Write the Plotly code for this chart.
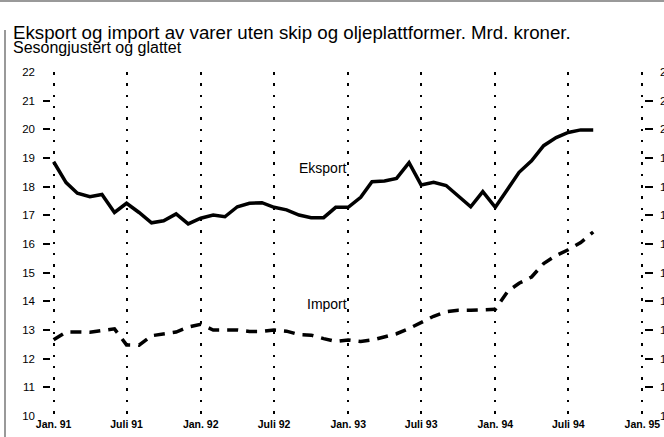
import pandas as pd
import plotly.graph_objects as go

# ---- data ----
start_month = "1991-01-01"
eksport = [18.87, 18.14, 17.77, 17.65, 17.73, 17.10, 17.42, 17.10, 16.74, 16.81,
           17.05, 16.70, 16.90, 17.01, 16.95, 17.30, 17.42, 17.44, 17.28, 17.19,
           17.01, 16.92, 16.92, 17.28, 17.28, 17.63, 18.17, 18.20, 18.29, 18.84,
           18.06, 18.15, 18.04, 17.67, 17.30, 17.83, 17.28, 17.92, 18.50, 18.90,
           19.43, 19.71, 19.89, 19.98, 19.98]
importv = [12.66, 12.93, 12.93, 12.92, 12.98, 13.04, 12.48, 12.47, 12.80, 12.86,
           12.93, 13.10, 13.20, 13.00, 13.00, 13.00, 12.95, 12.95, 13.00, 12.96,
           12.84, 12.82, 12.70, 12.60, 12.65, 12.60, 12.65, 12.75, 12.87, 13.05,
           13.25, 13.48, 13.64, 13.69, 13.69, 13.69, 13.72, 14.35, 14.63, 14.85,
           15.32, 15.60, 15.80, 16.05, 16.42]
months = pd.date_range(start_month, periods=len(eksport), freq="MS")

xtick_vals = ["1991-01-01", "1991-07-01", "1992-01-01", "1992-07-01", "1993-01-01",
              "1993-07-01", "1994-01-01", "1994-07-01", "1995-01-01"]
xtick_text = ["Jan. 91", "Juli 91", "Jan. 92", "Juli 92", "Jan. 93",
              "Juli 93", "Jan. 94", "Juli 94", "Jan. 95"]
y_label_vals = list(range(10, 23))
y_tick_vals = list(range(11, 22))

title_text = "Eksport og import av varer uten skip og oljeplattformer. Mrd. kroner."
subtitle_text = "Sesongjustert og glattet"

# ---- layout constants ----
W, H = 664, 437
L, R, T, B = 40, 20, 72, 21
PW = W - L - R
PH = H - T - B
FONT = "Liberation Sans, Arial, Helvetica, sans-serif"


def px_x(p):
    return (p - L) / PW


def px_y(p):
    return (H - B - p) / PH


fig = go.Figure()
fig.add_trace(go.Scatter(x=months, y=eksport, mode="lines", name="Eksport",
                         line=dict(color="black", width=3.5), showlegend=False))
fig.add_trace(go.Scatter(x=months, y=importv, mode="lines", name="Import",
                         line=dict(color="black", width=3.5, dash="11px,8px"),
                         showlegend=False))

common_y = dict(range=[10, 22], showgrid=False, zeroline=False, showline=False,
                automargin=False, fixedrange=True)

fig.update_layout(
    template="none",
    width=W, height=H,
    margin=dict(l=L, r=R, t=T, b=B, pad=0, autoexpand=False),
    paper_bgcolor="white", plot_bgcolor="white",
    font=dict(family=FONT, color="black"),
    showlegend=False,
    xaxis=dict(domain=[px_x(52), 1], range=["1990-12-28", "1995-01-05"],
               tickvals=xtick_vals, ticktext=xtick_text, ticks="",
               tickfont=dict(size=10.5, family=FONT, weight="bold"),
               showgrid=True, gridcolor="black", gridwidth=2.2, griddash="2.5px,8.8px",
               zeroline=False, showline=False, automargin=False, fixedrange=True),
    yaxis=dict(**common_y, tickvals=y_label_vals, ticks="", anchor="x", side="left",
               ticklabelstandoff=16, tickfont=dict(size=11.5, family=FONT)),
    yaxis2=dict(**common_y, tickvals=y_tick_vals, ticks="outside", ticklen=7,
                tickwidth=1.6, tickcolor="black", showticklabels=False,
                overlaying="y", anchor="free", position=px_x(50), side="left"),
    yaxis3=dict(**common_y, tickvals=y_tick_vals, ticks="outside", ticklen=8,
                tickwidth=1.6, tickcolor="black", showticklabels=False,
                overlaying="y", anchor="x", side="right"),
    yaxis4=dict(**common_y, tickvals=y_label_vals, ticks="", overlaying="y", anchor="x",
                side="right", ticklabelstandoff=15, tickfont=dict(size=11.5, family=FONT)),
)
# invisible traces so overlay axes render
for ax in ["y2", "y3", "y4"]:
    fig.add_trace(go.Scatter(x=[months[0]], y=[10], yaxis=ax, mode="markers",
                             marker=dict(opacity=0), hoverinfo="skip", showlegend=False))

fig.add_annotation(text=title_text, xref="paper", yref="paper",
                   x=px_x(11), y=px_y(32), xanchor="left", yanchor="middle",
                   showarrow=False, font=dict(size=18.7, family=FONT, color="black"))
fig.add_annotation(text=subtitle_text, xref="paper", yref="paper",
                   x=px_x(11), y=px_y(47), xanchor="left", yanchor="middle",
                   showarrow=False, font=dict(size=16, family=FONT, color="black"))
fig.add_annotation(text="Eksport", x="1993-01-01", y=18.65, xanchor="right",
                   yanchor="middle", showarrow=False, xshift=1,
                   font=dict(size=14, family=FONT, color="black"))
fig.add_annotation(text="Import", x="1993-01-01", y=13.9, xanchor="right",
                   yanchor="middle", showarrow=False, xshift=1,
                   font=dict(size=14, family=FONT, color="black"))

# scan border lines
fig.add_shape(type="line", xref="paper", yref="paper", x0=px_x(5), x1=px_x(5),
              y0=px_y(437), y1=px_y(30), line=dict(color="#777", width=1.5))
fig.add_shape(type="line", xref="paper", yref="paper", x0=px_x(0), x1=px_x(664),
              y0=px_y(1), y1=px_y(1), line=dict(color="#999", width=2))

fig.write_html("out.html", config={"displayModeBar": False},
               post_script="document.body.style.margin='0';document.body.style.overflow='hidden';")
